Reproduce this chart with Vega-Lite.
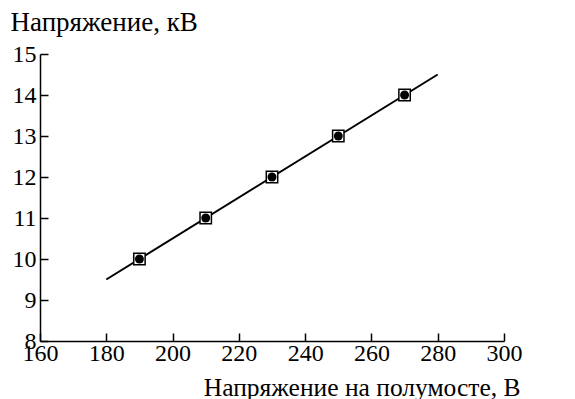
{
  "$schema": "https://vega.github.io/schema/vega-lite/v6.json",
  "width": 464,
  "height": 287,
  "autosize": {"type": "none"},
  "padding": {"left": 40, "top": 54, "right": 71, "bottom": 58},
  "background": "white",
  "config": {
    "view": {"stroke": null},
    "axis": {
      "labelFont": "Liberation Serif",
      "titleFont": "Liberation Serif",
      "labelFontSize": 24,
      "labelFlush": false,
      "labelOverlap": false,
      "labelColor": "black",
      "titleColor": "black",
      "titleFontWeight": "normal",
      "domainColor": "black",
      "domainWidth": 1.5,
      "tickColor": "black",
      "tickWidth": 1.5,
      "grid": false
    }
  },
  "datasets": {
    "fit": [
      {"x": 180, "y": 9.5},
      {"x": 280, "y": 14.5}
    ],
    "meas": [
      {"x": 190, "y": 10},
      {"x": 210, "y": 11},
      {"x": 230, "y": 12},
      {"x": 250, "y": 13},
      {"x": 270, "y": 14}
    ]
  },
  "layer": [
    {
      "data": {"name": "fit"},
      "mark": {"type": "line", "color": "black", "strokeWidth": 2},
      "encoding": {
        "x": {
          "field": "x", "type": "quantitative",
          "scale": {"domain": [160, 300], "nice": false, "zero": false},
          "axis": {
            "values": [160, 180, 200, 220, 240, 260, 280, 300],
            "tickSize": -8,
            "labelPadding": 8,
            "title": "Напряжение на полумосте, В",
            "titleFontSize": 25.5,
            "titleAnchor": "end",
            "titleAlign": "right",
            "titleBaseline": "alphabetic",
            "titleX": 480,
            "titleY": 54
          }
        },
        "y": {
          "field": "y", "type": "quantitative",
          "scale": {"domain": [8, 15], "nice": false, "zero": false},
          "axis": {
            "values": [8, 9, 10, 11, 12, 13, 14, 15],
            "tickSize": -8,
            "labelPadding": 12,
            "title": "Напряжение, кВ",
            "titleFontSize": 27,
            "titleAngle": 0,
            "titleAlign": "left",
            "titleBaseline": "alphabetic",
            "titleX": -30,
            "titleY": -24
          }
        }
      }
    },
    {
      "data": {"name": "meas"},
      "mark": {"type": "point", "shape": "square", "filled": false, "fill": "white", "stroke": "black", "strokeWidth": 1.5, "size": 130, "opacity": 1},
      "encoding": {
        "x": {"field": "x", "type": "quantitative"},
        "y": {"field": "y", "type": "quantitative"}
      }
    },
    {
      "data": {"name": "meas"},
      "mark": {"type": "point", "shape": "circle", "filled": true, "color": "black", "size": 80, "opacity": 1},
      "encoding": {
        "x": {"field": "x", "type": "quantitative"},
        "y": {"field": "y", "type": "quantitative"}
      }
    }
  ]
}
